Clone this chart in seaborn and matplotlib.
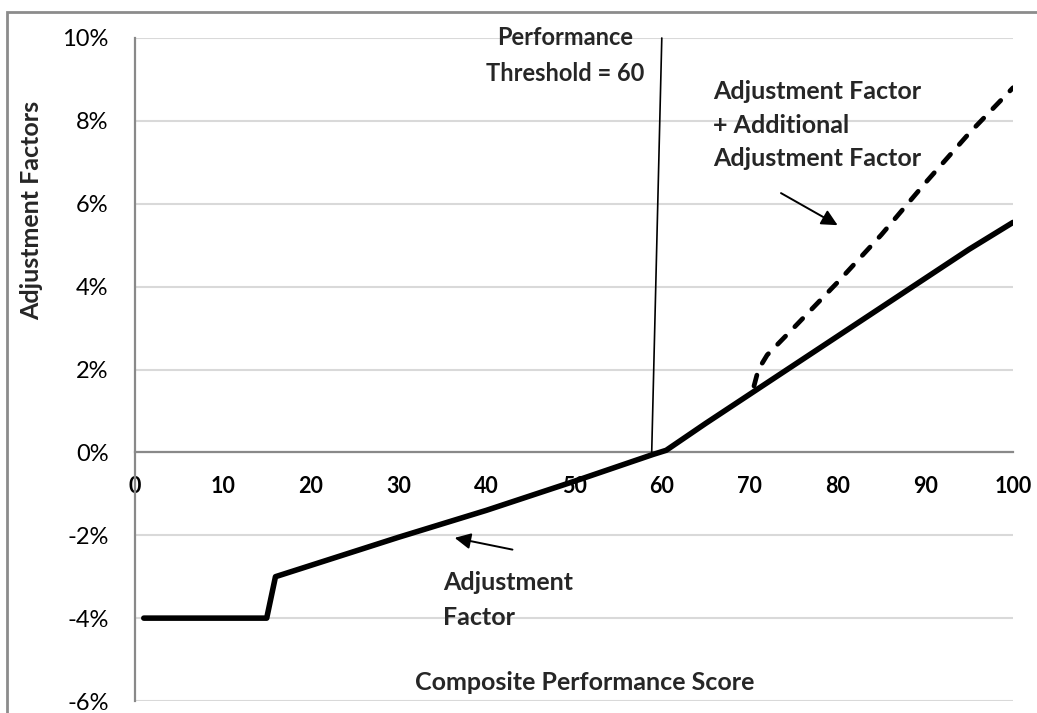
import matplotlib
matplotlib.use("Agg")
import matplotlib.pyplot as plt
import seaborn as sns
import pandas as pd
from matplotlib.ticker import FuncFormatter
from matplotlib.patches import Rectangle

# ---- data (percent units) ----
score_base = [1, 15, 16, 30, 40, 50, 59, 60.5, 65, 70, 75, 80, 85, 90, 95, 100]
adj_base = [-4.0, -4.0, -3.0, -2.05, -1.4, -0.7, -0.05, 0.05, 0.7, 1.4, 2.1, 2.8, 3.5, 4.2, 4.9, 5.55]

score_add = [70.5, 71, 72, 75, 80, 85, 90, 95, 100]
adj_add = [1.6, 2.0, 2.35, 3.0, 4.1, 5.25, 6.5, 7.7, 8.8]

threshold_x = [58.85, 60.0]
threshold_y = [0.0, 10.0]

x_ticks = [0, 10, 20, 30, 40, 50, 60, 70, 80, 90, 100]
y_ticks = [-6, -4, -2, 0, 2, 4, 6, 8, 10]

sns.set_theme(style="white")
plt.rcParams["font.family"] = ["Lato", "DejaVu Sans"]
plt.rcParams["axes.unicode_minus"] = False

W, H = 1037, 713
fig = plt.figure(figsize=(W / 100, H / 100), dpi=100)
ax = fig.add_axes([135 / W, (H - 701) / H, (1013 - 135) / W, (701 - 38) / H])

df_base = pd.DataFrame({"score": score_base, "adj": adj_base})
df_add = pd.DataFrame({"score": score_add, "adj": adj_add})

sns.lineplot(data=df_base, x="score", y="adj", ax=ax, color="black",
             linewidth=4.0, solid_capstyle="round", solid_joinstyle="round", zorder=5)
sns.lineplot(data=df_add, x="score", y="adj", ax=ax, color="black",
             linewidth=3.4, zorder=5)
ln = ax.get_lines()[-1]
ln.set_dashes((2.4, 2.8))
ln.set_dash_capstyle("round")

# threshold line
ax.plot(threshold_x, threshold_y, color="black", linewidth=1.2, clip_on=False, zorder=4)

ax.set_xlim(0, 100)
ax.set_ylim(-6, 10)
ax.set_xticks(x_ticks)
ax.set_yticks(y_ticks)
ax.yaxis.set_major_formatter(FuncFormatter(lambda v, p: f"{v:.0f}%"))
ax.grid(axis="y", color="#d9d9d9", linewidth=1.5)
ax.grid(axis="x", visible=False)
ax.set_axisbelow(True)

for s in ["top", "right"]:
    ax.spines[s].set_visible(False)
ax.spines["bottom"].set_position(("data", 0))
ax.spines["bottom"].set_color("#898989")
ax.spines["bottom"].set_linewidth(1.6)
ax.spines["left"].set_color("#898989")
ax.spines["left"].set_linewidth(1.6)

ax.tick_params(axis="x", length=0, pad=17, labelsize=15.5, colors="black")
ax.tick_params(axis="y", length=0, pad=19, labelsize=17, colors="black")
for t in ax.get_xticklabels():
    t.set_fontweight("bold")

ax.set_xlabel("")
ax.set_ylabel("")

# axis titles
ax.text(51.2, -5.55, "Composite Performance Score", ha="center", va="center",
        fontsize=18, fontweight="bold")
fig.text(32 / W, 1 - 210 / H, "Adjustment Factors", rotation=90, ha="center",
         va="center", fontsize=18, fontweight="bold")

# annotations
ax.text(49, 9.58, "Performance\nThreshold = 60", ha="center", va="center",
        fontsize=17, fontweight="bold", linespacing=1.65)
ax.text(65.8, 7.9, "Adjustment Factor\n+ Additional\nAdjustment Factor",
        ha="left", va="center", fontsize=18, fontweight="bold", linespacing=1.55)
ax.text(35.1, -3.56, "Adjustment\nFactor", ha="left", va="center",
        fontsize=18, fontweight="bold", linespacing=1.6)

ax.annotate("", xy=(80.3, 5.45), xytext=(73.3, 6.29),
            arrowprops=dict(arrowstyle="-|>", color="black", lw=1.4, mutation_scale=24))
ax.annotate("", xy=(36.1, -2.05), xytext=(43.3, -2.36),
            arrowprops=dict(arrowstyle="-|>", color="black", lw=1.4, mutation_scale=24))

# outer chart border
fig.patches.append(Rectangle((7 / W, -0.05), 1.1, 1.05 - 12 / H,
                             transform=fig.transFigure, fill=False,
                             edgecolor="#8c8c8c", linewidth=2.0))

fig.savefig("out.png", dpi=100)
